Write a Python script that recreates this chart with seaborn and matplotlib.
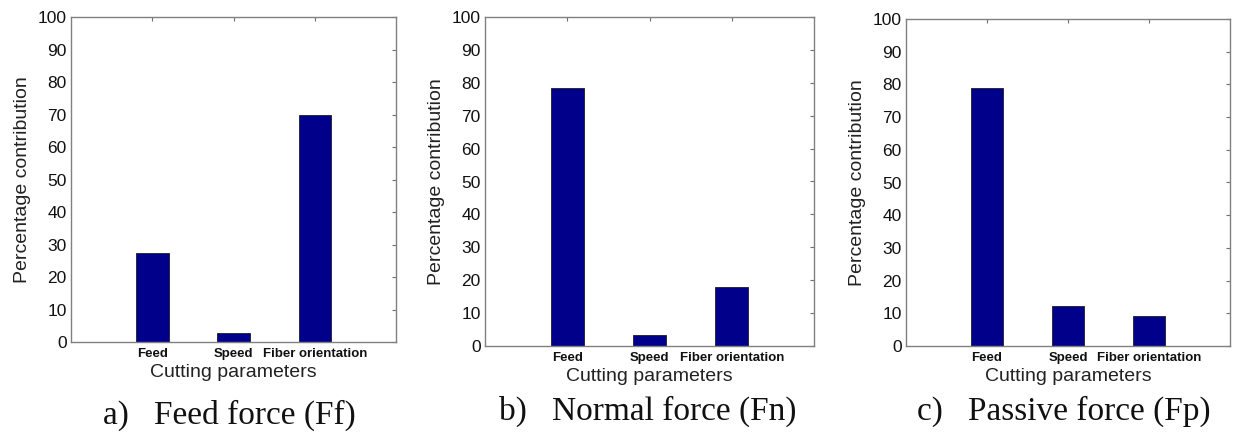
import matplotlib
matplotlib.use("Agg")
import matplotlib.pyplot as plt
import seaborn as sns
import pandas as pd

categories = ["Feed", "Speed", "Fiber orientation"]
feed_force = [27.5, 2.7, 70.0]
normal_force = [78.5, 3.4, 17.9]
passive_force = [78.8, 12.3, 9.1]
captions = ["a)   Feed force (Ff)", "b)   Normal force (Fn)", "c)   Passive force (Fp)"]
yticks = list(range(0, 101, 10))

sns.set_theme(style="white")
plt.rcParams["font.family"] = ["Liberation Sans", "DejaVu Sans"]

fig = plt.figure(figsize=(12.34, 4.36), dpi=100)
W, H = 1234, 436
boxes = [(71, 17, 396, 342), (485, 17, 814, 346), (906, 19, 1230, 346)]
cap_pos = [(229, 415), (648, 411), (1064, 411)]
series = [feed_force, normal_force, passive_force]

for (l, t, r, b), vals, cap, (cx, cy) in zip(boxes, series, captions, cap_pos):
    ax = fig.add_axes([l / W, 1 - b / H, (r - l) / W, (b - t) / H])
    df = pd.DataFrame({"param": categories, "value": vals})
    sns.barplot(data=df, x="param", y="value", order=categories, ax=ax,
                color="#00008B", saturation=1, width=0.4,
                edgecolor="#1a1a2a", linewidth=0.6)
    ax.set_xlim(-1, 3)
    ax.set_ylim(0, 100)
    ax.set_yticks(yticks)
    ax.set_yticklabels([str(v) for v in yticks], fontsize=12.5)
    ax.set_xticks(range(len(categories)))
    ax.set_xticklabels(categories, fontsize=9.5, fontweight="bold")
    ax.tick_params(direction="in", top=True, right=True, length=3, width=0.8,
                   color="#707070", pad=3, labelcolor="#111111")
    ax.tick_params(axis="x", pad=4)
    for s in ax.spines.values():
        s.set_visible(True)
        s.set_color("#808080")
        s.set_linewidth(1.0)
    ax.set_xlabel("Cutting parameters", fontsize=14, labelpad=3, color="#222222")
    ax.set_ylabel("Percentage contribution", fontsize=14, labelpad=5, color="#222222")
    fig.text(cx / W, 1 - cy / H, cap, ha="center", va="center",
             fontsize=24, family=["Liberation Serif", "DejaVu Serif"], color="#111111")

fig.savefig("out.png", dpi=100, facecolor="white")
